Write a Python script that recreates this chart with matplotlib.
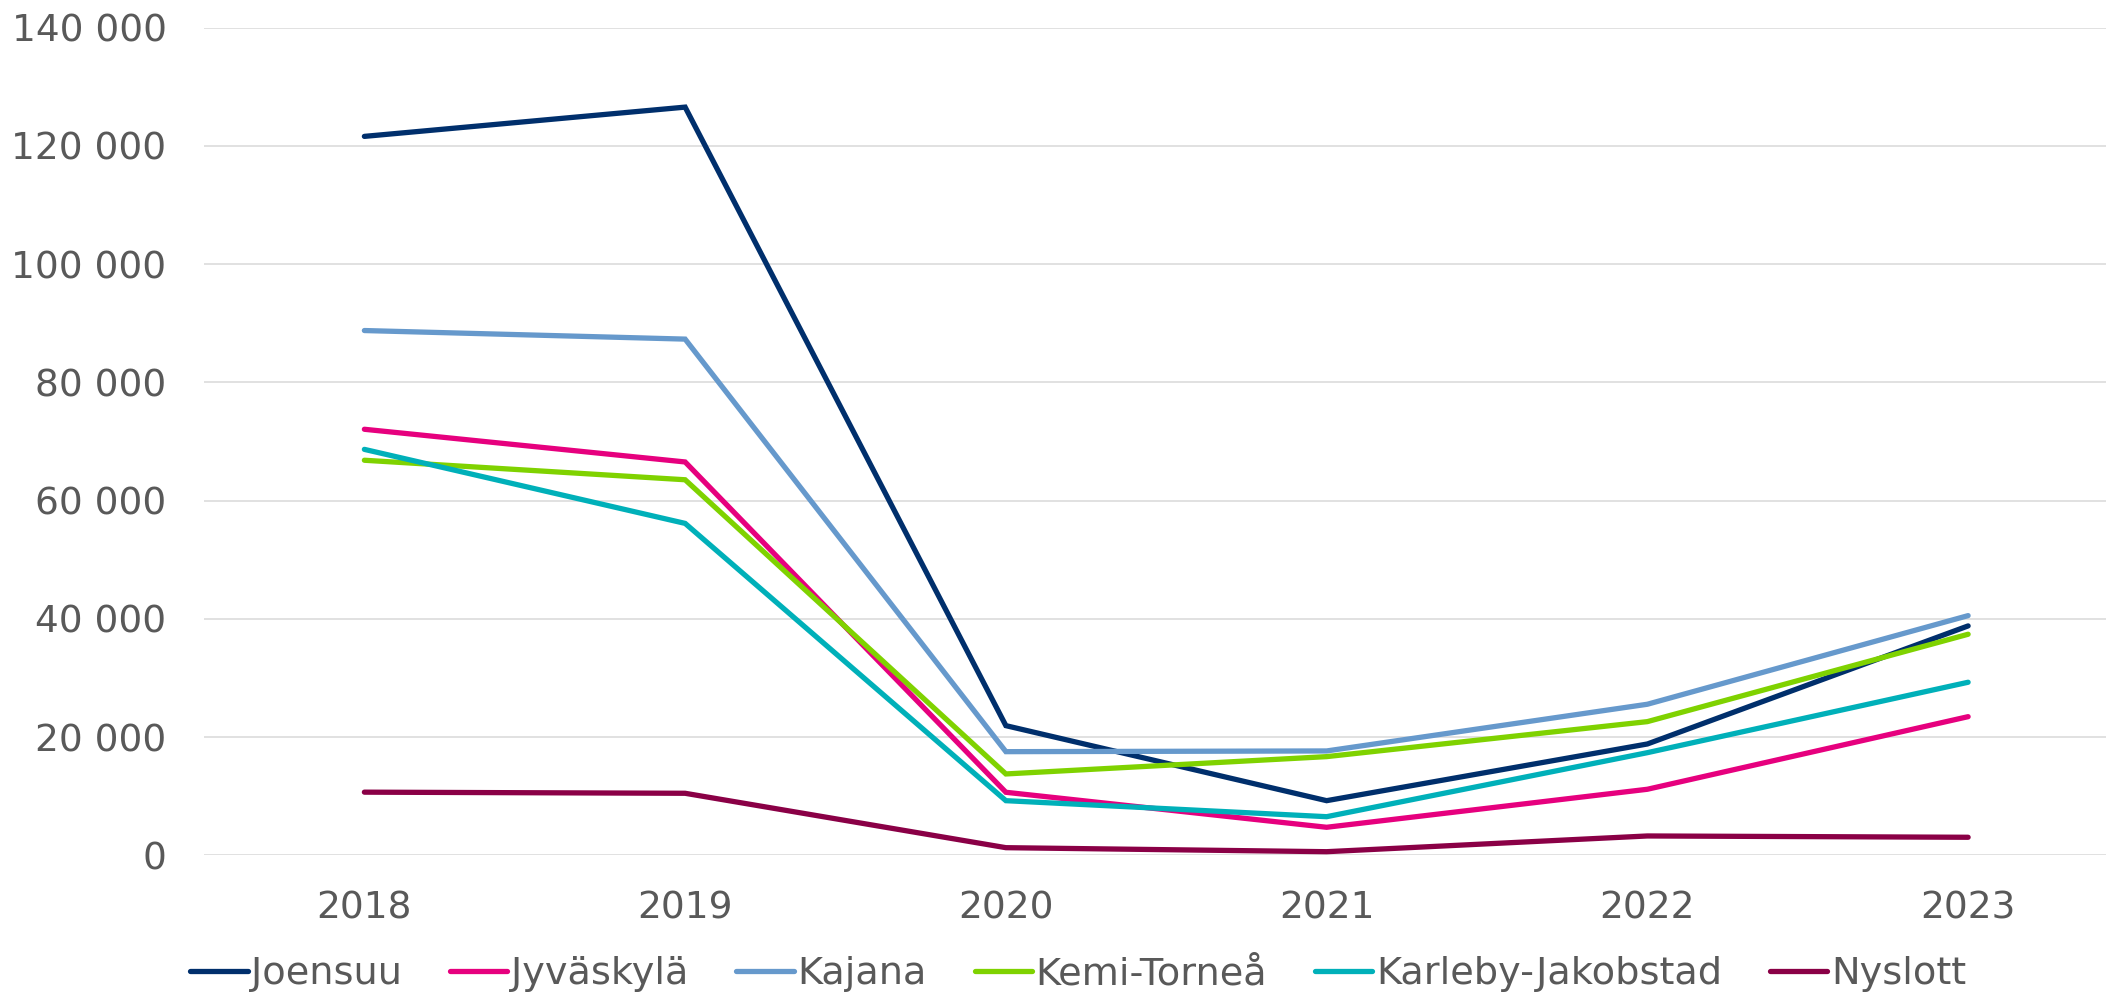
import matplotlib
matplotlib.use("Agg")
import matplotlib.pyplot as plt
from matplotlib.ticker import FuncFormatter, MultipleLocator

years = ["2018", "2019", "2020", "2021", "2022", "2023"]
joensuu = [121600, 126550, 21930, 9240, 18830, 38800]
jyvaskyla = [72060, 66530, 10660, 4740, 11170, 23450]
kajana = [88760, 87310, 17530, 17650, 25550, 40540]
kemi_tornea = [66820, 63520, 13760, 16690, 22610, 37390]
karleby = [68660, 56140, 9240, 6530, 17360, 29270]
nyslott = [10680, 10490, 1290, 610, 3270, 3050]

series = [
    ("Joensuu", joensuu, "#002f6c"),
    ("Jyväskylä", jyvaskyla, "#e6007e"),
    ("Kajana", kajana, "#6699cc"),
    ("Kemi-Torneå", kemi_tornea, "#7fd200"),
    ("Karleby-Jakobstad", karleby, "#00b0b9"),
    ("Nyslott", nyslott, "#8a0046"),
]

plt.rcParams['font.family'] = ['DejaVu Sans']
W, H = 2106, 993
fig = plt.figure(figsize=(W / 100, H / 100), dpi=100)
ax = fig.add_axes([204 / W, (H - 855.3) / H, (2128.5 - 204) / W, (855.3 - 27.6) / H])

x = list(range(len(years)))
for name, vals, col in series:
    ax.plot(x, vals, color=col, lw=3.8, label=name, solid_capstyle='round', solid_joinstyle='miter')

ax.set_xlim(-0.5, 5.5)
ax.set_ylim(0, 140000)
ax.yaxis.set_major_locator(MultipleLocator(20000))
ax.yaxis.set_major_formatter(FuncFormatter(lambda v, p: f"{int(v):,}".replace(",", " ")))
ax.set_xticks(x)
ax.set_xticklabels(years)
ax.grid(axis='y', color='#d9d9d9', lw=1.1)
ax.set_axisbelow(True)
for s in ax.spines.values():
    s.set_visible(False)
ax.tick_params(axis='both', length=0, labelsize=27, labelcolor='#595959')
ax.tick_params(axis='y', pad=27)
ax.tick_params(axis='x', pad=25)

fig.legend(loc='center', bbox_to_anchor=(0.512, 0.019), ncol=6, frameon=False,
           fontsize=27.5, labelcolor='#595959', handlelength=1.5, handletextpad=0.1,
           columnspacing=1.25, borderaxespad=0, borderpad=0)

fig.savefig("out.png", dpi=100)
